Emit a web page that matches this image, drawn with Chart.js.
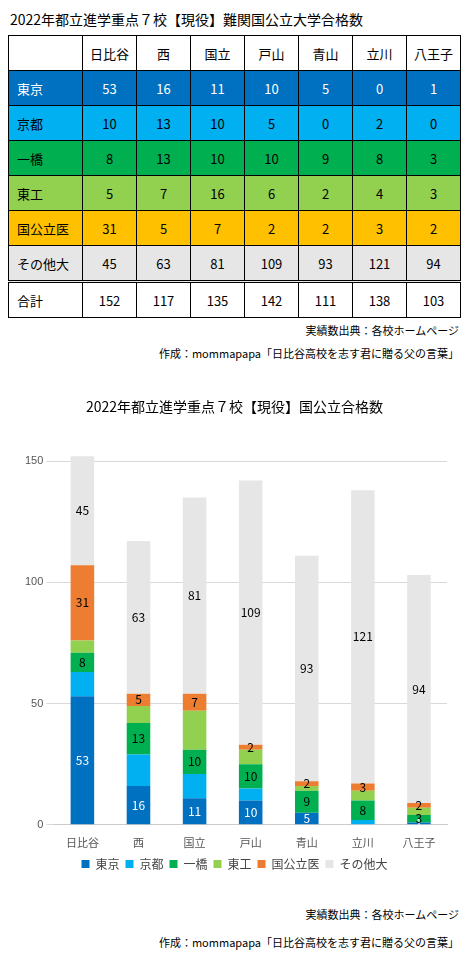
<!DOCTYPE html>
<html><head><meta charset="utf-8">
<script src="https://cdn.jsdelivr.net/npm/chart.js@4"></script>
<style>
body{margin:0;width:469px;height:965px;background:#fff;font-family:"Noto Sans CJK JP",sans-serif;color:#000;position:relative}
.t1{position:absolute;left:10px;top:9px;font-size:14px}
table{position:absolute;left:8px;top:35px;border-collapse:collapse;font-size:13px}
td{border:1px solid #000;text-align:center;height:34px;width:53px;padding:0}
td.h{width:74px;text-align:left;padding-left:8px;box-sizing:border-box}
.src{position:absolute;right:10px;font-size:11px}
#wrap{position:absolute;left:0;top:390px;width:469px;height:490px}
</style></head><body>
<div class="t1">2022年都立進学重点７校【現役】難関国公立大学合格数</div>
<table id="tb"></table>
<div class="src" style="top:322px">実績数出典：各校ホームページ</div>
<div class="src" style="top:345px">作成：mommapapa「日比谷高校を志す君に贈る父の言葉」</div>
<div id="wrap"><canvas id="c"></canvas></div>
<div class="src" style="top:906px">実績数出典：各校ホームページ</div>
<div class="src" style="top:934px">作成：mommapapa「日比谷高校を志す君に贈る父の言葉」</div>
<script>
const schools=["日比谷","西","国立","戸山","青山","立川","八王子"];
const groups=["東京","京都","一橋","東工","国公立医","その他大"];
const tokyo=[53,16,11,10,5,0,1];
const kyoto=[10,13,10,5,0,2,0];
const hitotsubashi=[8,13,10,10,9,8,3];
const toko=[5,7,16,6,2,4,3];
const med=[31,5,7,2,2,3,2];
const other=[45,63,81,109,93,121,94];
const totals=[152,117,135,142,111,138,103];
const yTicks=[0,50,100,150];
const series=[tokyo,kyoto,hitotsubashi,toko,med,other];
const tableColors=[["#0070C0","#fff"],["#00B0F0","#000"],["#00B050","#000"],["#92D050","#000"],["#FFC000","#000"],["#E7E6E6","#000"]];
const chartColors=["#0070C0","#00B0F0","#00B050","#92D050","#ED7D31","#E7E6E6"];
const showLbl=[true,false,true,false,true,true];
let h='<tr><td class="h"></td>'+schools.map(s=>'<td>'+s+'</td>').join('')+'</tr>';
series.forEach((arr,i)=>{const [bg,fg]=tableColors[i];h+='<tr style="background:'+bg+';color:'+fg+'"><td class="h">'+groups[i]+'</td>'+arr.map(v=>'<td>'+v+'</td>').join('')+'</tr>';});
h+='<tr style="border-top:3px double #000"><td class="h">合計</td>'+totals.map(v=>'<td>'+v+'</td>').join('')+'</tr>';
document.getElementById('tb').innerHTML=h;
const lblPlugin={id:'lbl',afterDatasetsDraw(ch){const c=ch.ctx;c.save();c.font='12px "Noto Sans CJK JP"';c.textAlign='center';c.textBaseline='middle';
ch.data.datasets.forEach((ds,i)=>{if(!showLbl[i])return;ch.getDatasetMeta(i).data.forEach((b,j)=>{const v=ds.data[j];if(!v)return;c.fillStyle=i==0?'#fff':'#000';c.fillText(v,b.x,(b.y+b.base)/2);});});c.restore();}};
new Chart(document.getElementById('c'),{type:'bar',
data:{labels:schools,datasets:series.map((d,i)=>({label:groups[i],data:d,backgroundColor:chartColors[i],barPercentage:0.42,categoryPercentage:1}))},
options:{responsive:true,maintainAspectRatio:false,animation:false,
layout:{padding:{left:22,right:22,top:0,bottom:0}},
plugins:{title:{display:true,text:'2022年都立進学重点７校【現役】国公立合格数',color:'#000',font:{size:14,family:'"Noto Sans CJK JP"',weight:'normal'},padding:{top:8,bottom:22}},
legend:{position:'bottom',labels:{boxWidth:8,boxHeight:8,color:'#444',font:{size:12,family:'"Noto Sans CJK JP"'},padding:6}},tooltip:{enabled:false}},
scales:{x:{stacked:true,grid:{display:false},border:{color:'#ccc'},ticks:{color:'#555',font:{size:11,family:'"Noto Sans CJK JP"'}}},
y:{stacked:true,min:0,max:160,afterBuildTicks:a=>{a.ticks=yTicks.map(v=>({value:v}))},grid:{color:'#d9d9d9'},border:{display:false},ticks:{color:'#555',font:{size:11}}}}},
plugins:[lblPlugin]});
</script></body></html>
